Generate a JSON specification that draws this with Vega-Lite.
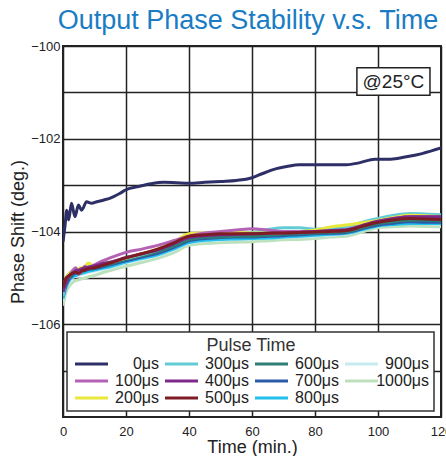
{
  "$schema": "https://vega.github.io/schema/vega-lite/v6.json",
  "width": 378,
  "height": 371,
  "autosize": {"type": "none"},
  "padding": {"left": 63, "top": 46, "right": 5, "bottom": 39},
  "background": "white",
  "title": {
    "text": "Output Phase Stability v.s. Time",
    "color": "#1a7cc4",
    "font": "Liberation Sans",
    "fontSize": 27,
    "fontWeight": "normal",
    "anchor": "middle",
    "dx": -4,
    "offset": 5
  },
  "config": {
    "view": {"stroke": "#222", "strokeWidth": 2},
    "axis": {
      "grid": true,
      "gridColor": "#222",
      "gridWidth": 1.5,
      "gridOpacity": 1,
      "domain": false,
      "ticks": false,
      "labelFont": "Liberation Sans",
      "labelFontSize": 13,
      "labelColor": "#222",
      "titleFont": "Liberation Sans",
      "titleFontSize": 18,
      "titleFontWeight": "normal",
      "titleColor": "#222"
    },
    "legend": {
      "orient": "none",
      "legendX": 4,
      "legendY": 286,
      "columns": 4,
      "symbolType": "M-1,0H5.6",
      "symbolSize": 100,
      "symbolStrokeWidth": 3,
      "symbolFillColor": "transparent",
      "labelFont": "Liberation Sans",
      "labelFontSize": 16,
      "labelColor": "#222",
      "labelAlign": "right",
      "labelOffset": 71,
      "labelLimit": 200,
      "columnPadding": 0,
      "rowPadding": 1,
      "titleFont": "Liberation Sans",
      "titleFontSize": 18,
      "titleFontWeight": "normal",
      "titleColor": "#333",
      "titleAnchor": "middle",
      "titlePadding": 1,
      "padding": 5,
      "strokeColor": "#333",
      "strokeWidth": 1.5,
      "fillColor": "white"
    }
  },
  "layer": [
    {
      "data": {"values": [
        {"pulse":"1000μs","time":0,"phase":-105.6},{"pulse":"1000μs","time":1,"phase":-105.3},{"pulse":"1000μs","time":2,"phase":-105.18},{"pulse":"1000μs","time":3,"phase":-105.1},{"pulse":"1000μs","time":4,"phase":-105.06},{"pulse":"1000μs","time":5,"phase":-105.04},{"pulse":"1000μs","time":6,"phase":-105.02},{"pulse":"1000μs","time":7,"phase":-105.0},{"pulse":"1000μs","time":8,"phase":-104.98},{"pulse":"1000μs","time":10,"phase":-104.95},{"pulse":"1000μs","time":12,"phase":-104.9},{"pulse":"1000μs","time":15,"phase":-104.84},{"pulse":"1000μs","time":20,"phase":-104.75},{"pulse":"1000μs","time":25,"phase":-104.67},{"pulse":"1000μs","time":30,"phase":-104.58},{"pulse":"1000μs","time":35,"phase":-104.46},{"pulse":"1000μs","time":40,"phase":-104.3},{"pulse":"1000μs","time":45,"phase":-104.26},{"pulse":"1000μs","time":50,"phase":-104.24},{"pulse":"1000μs","time":55,"phase":-104.23},{"pulse":"1000μs","time":60,"phase":-104.22},{"pulse":"1000μs","time":65,"phase":-104.2},{"pulse":"1000μs","time":70,"phase":-104.18},{"pulse":"1000μs","time":75,"phase":-104.17},{"pulse":"1000μs","time":80,"phase":-104.15},{"pulse":"1000μs","time":85,"phase":-104.12},{"pulse":"1000μs","time":90,"phase":-104.1},{"pulse":"1000μs","time":95,"phase":-104.01},{"pulse":"1000μs","time":100,"phase":-103.92},{"pulse":"1000μs","time":105,"phase":-103.9},{"pulse":"1000μs","time":110,"phase":-103.88},{"pulse":"1000μs","time":115,"phase":-103.89},{"pulse":"1000μs","time":120,"phase":-103.9},
        {"pulse":"900μs","time":0,"phase":-105.5},{"pulse":"900μs","time":1,"phase":-105.2},{"pulse":"900μs","time":2,"phase":-105.08},{"pulse":"900μs","time":3,"phase":-105.0},{"pulse":"900μs","time":4,"phase":-104.97},{"pulse":"900μs","time":5,"phase":-104.94},{"pulse":"900μs","time":6,"phase":-104.92},{"pulse":"900μs","time":7,"phase":-104.9},{"pulse":"900μs","time":8,"phase":-104.88},{"pulse":"900μs","time":10,"phase":-104.85},{"pulse":"900μs","time":12,"phase":-104.82},{"pulse":"900μs","time":15,"phase":-104.78},{"pulse":"900μs","time":20,"phase":-104.68},{"pulse":"900μs","time":25,"phase":-104.6},{"pulse":"900μs","time":30,"phase":-104.52},{"pulse":"900μs","time":35,"phase":-104.4},{"pulse":"900μs","time":40,"phase":-104.25},{"pulse":"900μs","time":45,"phase":-104.2},{"pulse":"900μs","time":50,"phase":-104.18},{"pulse":"900μs","time":55,"phase":-104.17},{"pulse":"900μs","time":60,"phase":-104.16},{"pulse":"900μs","time":65,"phase":-104.15},{"pulse":"900μs","time":70,"phase":-104.13},{"pulse":"900μs","time":75,"phase":-104.12},{"pulse":"900μs","time":80,"phase":-104.1},{"pulse":"900μs","time":85,"phase":-104.08},{"pulse":"900μs","time":90,"phase":-104.05},{"pulse":"900μs","time":95,"phase":-103.97},{"pulse":"900μs","time":100,"phase":-103.88},{"pulse":"900μs","time":105,"phase":-103.84},{"pulse":"900μs","time":110,"phase":-103.82},{"pulse":"900μs","time":115,"phase":-103.83},{"pulse":"900μs","time":120,"phase":-103.84},
        {"pulse":"800μs","time":0,"phase":-105.45},{"pulse":"800μs","time":1,"phase":-105.2},{"pulse":"800μs","time":2,"phase":-105.05},{"pulse":"800μs","time":3,"phase":-104.98},{"pulse":"800μs","time":4,"phase":-104.95},{"pulse":"800μs","time":5,"phase":-104.92},{"pulse":"800μs","time":6,"phase":-104.9},{"pulse":"800μs","time":7,"phase":-104.88},{"pulse":"800μs","time":8,"phase":-104.86},{"pulse":"800μs","time":10,"phase":-104.83},{"pulse":"800μs","time":12,"phase":-104.8},{"pulse":"800μs","time":15,"phase":-104.76},{"pulse":"800μs","time":20,"phase":-104.66},{"pulse":"800μs","time":25,"phase":-104.58},{"pulse":"800μs","time":30,"phase":-104.5},{"pulse":"800μs","time":35,"phase":-104.38},{"pulse":"800μs","time":40,"phase":-104.24},{"pulse":"800μs","time":45,"phase":-104.19},{"pulse":"800μs","time":50,"phase":-104.17},{"pulse":"800μs","time":55,"phase":-104.16},{"pulse":"800μs","time":60,"phase":-104.15},{"pulse":"800μs","time":65,"phase":-104.14},{"pulse":"800μs","time":70,"phase":-104.12},{"pulse":"800μs","time":75,"phase":-104.1},{"pulse":"800μs","time":80,"phase":-104.08},{"pulse":"800μs","time":85,"phase":-104.06},{"pulse":"800μs","time":90,"phase":-104.04},{"pulse":"800μs","time":95,"phase":-103.96},{"pulse":"800μs","time":100,"phase":-103.88},{"pulse":"800μs","time":105,"phase":-103.85},{"pulse":"800μs","time":110,"phase":-103.83},{"pulse":"800μs","time":115,"phase":-103.83},{"pulse":"800μs","time":120,"phase":-103.83},
        {"pulse":"700μs","time":0,"phase":-105.4},{"pulse":"700μs","time":1,"phase":-105.15},{"pulse":"700μs","time":2,"phase":-105.02},{"pulse":"700μs","time":3,"phase":-104.95},{"pulse":"700μs","time":4,"phase":-104.9},{"pulse":"700μs","time":5,"phase":-104.9},{"pulse":"700μs","time":6,"phase":-104.86},{"pulse":"700μs","time":7,"phase":-104.84},{"pulse":"700μs","time":8,"phase":-104.82},{"pulse":"700μs","time":10,"phase":-104.8},{"pulse":"700μs","time":12,"phase":-104.77},{"pulse":"700μs","time":15,"phase":-104.72},{"pulse":"700μs","time":20,"phase":-104.63},{"pulse":"700μs","time":25,"phase":-104.55},{"pulse":"700μs","time":30,"phase":-104.47},{"pulse":"700μs","time":35,"phase":-104.35},{"pulse":"700μs","time":40,"phase":-104.2},{"pulse":"700μs","time":45,"phase":-104.15},{"pulse":"700μs","time":50,"phase":-104.13},{"pulse":"700μs","time":55,"phase":-104.12},{"pulse":"700μs","time":60,"phase":-104.12},{"pulse":"700μs","time":65,"phase":-104.1},{"pulse":"700μs","time":70,"phase":-104.09},{"pulse":"700μs","time":75,"phase":-104.07},{"pulse":"700μs","time":80,"phase":-104.05},{"pulse":"700μs","time":85,"phase":-104.04},{"pulse":"700μs","time":90,"phase":-104.02},{"pulse":"700μs","time":95,"phase":-103.94},{"pulse":"700μs","time":100,"phase":-103.86},{"pulse":"700μs","time":105,"phase":-103.82},{"pulse":"700μs","time":110,"phase":-103.79},{"pulse":"700μs","time":115,"phase":-103.8},{"pulse":"700μs","time":120,"phase":-103.8},
        {"pulse":"600μs","time":0,"phase":-105.35},{"pulse":"600μs","time":1,"phase":-105.1},{"pulse":"600μs","time":2,"phase":-105.0},{"pulse":"600μs","time":3,"phase":-104.92},{"pulse":"600μs","time":4,"phase":-104.88},{"pulse":"600μs","time":5,"phase":-104.86},{"pulse":"600μs","time":6,"phase":-104.84},{"pulse":"600μs","time":7,"phase":-104.82},{"pulse":"600μs","time":8,"phase":-104.8},{"pulse":"600μs","time":10,"phase":-104.78},{"pulse":"600μs","time":12,"phase":-104.75},{"pulse":"600μs","time":15,"phase":-104.7},{"pulse":"600μs","time":20,"phase":-104.6},{"pulse":"600μs","time":25,"phase":-104.52},{"pulse":"600μs","time":30,"phase":-104.44},{"pulse":"600μs","time":35,"phase":-104.32},{"pulse":"600μs","time":40,"phase":-104.18},{"pulse":"600μs","time":45,"phase":-104.13},{"pulse":"600μs","time":50,"phase":-104.12},{"pulse":"600μs","time":55,"phase":-104.1},{"pulse":"600μs","time":60,"phase":-104.1},{"pulse":"600μs","time":65,"phase":-104.08},{"pulse":"600μs","time":70,"phase":-104.06},{"pulse":"600μs","time":75,"phase":-104.05},{"pulse":"600μs","time":80,"phase":-104.03},{"pulse":"600μs","time":85,"phase":-104.02},{"pulse":"600μs","time":90,"phase":-104.0},{"pulse":"600μs","time":95,"phase":-103.92},{"pulse":"600μs","time":100,"phase":-103.83},{"pulse":"600μs","time":105,"phase":-103.79},{"pulse":"600μs","time":110,"phase":-103.76},{"pulse":"600μs","time":115,"phase":-103.76},{"pulse":"600μs","time":120,"phase":-103.77},
        {"pulse":"300μs","time":0,"phase":-105.4},{"pulse":"300μs","time":1,"phase":-105.05},{"pulse":"300μs","time":2,"phase":-104.9},{"pulse":"300μs","time":3,"phase":-104.85},{"pulse":"300μs","time":4,"phase":-104.8},{"pulse":"300μs","time":5,"phase":-104.82},{"pulse":"300μs","time":6,"phase":-104.8},{"pulse":"300μs","time":7,"phase":-104.78},{"pulse":"300μs","time":8,"phase":-104.76},{"pulse":"300μs","time":10,"phase":-104.73},{"pulse":"300μs","time":12,"phase":-104.7},{"pulse":"300μs","time":15,"phase":-104.66},{"pulse":"300μs","time":20,"phase":-104.58},{"pulse":"300μs","time":25,"phase":-104.5},{"pulse":"300μs","time":30,"phase":-104.4},{"pulse":"300μs","time":35,"phase":-104.26},{"pulse":"300μs","time":40,"phase":-104.12},{"pulse":"300μs","time":45,"phase":-104.08},{"pulse":"300μs","time":50,"phase":-104.05},{"pulse":"300μs","time":55,"phase":-104.03},{"pulse":"300μs","time":60,"phase":-104.02},{"pulse":"300μs","time":65,"phase":-103.96},{"pulse":"300μs","time":70,"phase":-103.92},{"pulse":"300μs","time":75,"phase":-103.92},{"pulse":"300μs","time":80,"phase":-103.95},{"pulse":"300μs","time":85,"phase":-103.93},{"pulse":"300μs","time":90,"phase":-103.9},{"pulse":"300μs","time":95,"phase":-103.8},{"pulse":"300μs","time":100,"phase":-103.72},{"pulse":"300μs","time":105,"phase":-103.65},{"pulse":"300μs","time":110,"phase":-103.61},{"pulse":"300μs","time":115,"phase":-103.62},{"pulse":"300μs","time":120,"phase":-103.64},
        {"pulse":"200μs","time":0,"phase":-105.25},{"pulse":"200μs","time":1,"phase":-105.0},{"pulse":"200μs","time":2,"phase":-104.9},{"pulse":"200μs","time":3,"phase":-104.85},{"pulse":"200μs","time":4,"phase":-104.85},{"pulse":"200μs","time":5,"phase":-104.8},{"pulse":"200μs","time":6,"phase":-104.78},{"pulse":"200μs","time":7,"phase":-104.75},{"pulse":"200μs","time":8,"phase":-104.68},{"pulse":"200μs","time":10,"phase":-104.75},{"pulse":"200μs","time":12,"phase":-104.7},{"pulse":"200μs","time":15,"phase":-104.66},{"pulse":"200μs","time":20,"phase":-104.57},{"pulse":"200μs","time":25,"phase":-104.48},{"pulse":"200μs","time":30,"phase":-104.38},{"pulse":"200μs","time":35,"phase":-104.24},{"pulse":"200μs","time":40,"phase":-104.05},{"pulse":"200μs","time":45,"phase":-104.03},{"pulse":"200μs","time":50,"phase":-104.02},{"pulse":"200μs","time":55,"phase":-104.02},{"pulse":"200μs","time":60,"phase":-104.03},{"pulse":"200μs","time":65,"phase":-104.03},{"pulse":"200μs","time":70,"phase":-104.02},{"pulse":"200μs","time":75,"phase":-104.0},{"pulse":"200μs","time":80,"phase":-103.97},{"pulse":"200μs","time":85,"phase":-103.9},{"pulse":"200μs","time":90,"phase":-103.86},{"pulse":"200μs","time":95,"phase":-103.81},{"pulse":"200μs","time":100,"phase":-103.76},{"pulse":"200μs","time":105,"phase":-103.7},{"pulse":"200μs","time":110,"phase":-103.65},{"pulse":"200μs","time":115,"phase":-103.66},{"pulse":"200μs","time":120,"phase":-103.68},
        {"pulse":"100μs","time":0,"phase":-105.3},{"pulse":"100μs","time":1,"phase":-105.05},{"pulse":"100μs","time":2,"phase":-104.95},{"pulse":"100μs","time":3,"phase":-104.85},{"pulse":"100μs","time":4,"phase":-104.78},{"pulse":"100μs","time":5,"phase":-104.92},{"pulse":"100μs","time":6,"phase":-104.85},{"pulse":"100μs","time":7,"phase":-104.75},{"pulse":"100μs","time":8,"phase":-104.8},{"pulse":"100μs","time":10,"phase":-104.72},{"pulse":"100μs","time":12,"phase":-104.65},{"pulse":"100μs","time":15,"phase":-104.57},{"pulse":"100μs","time":20,"phase":-104.45},{"pulse":"100μs","time":25,"phase":-104.38},{"pulse":"100μs","time":30,"phase":-104.3},{"pulse":"100μs","time":35,"phase":-104.2},{"pulse":"100μs","time":40,"phase":-104.1},{"pulse":"100μs","time":45,"phase":-104.03},{"pulse":"100μs","time":50,"phase":-104.0},{"pulse":"100μs","time":55,"phase":-103.97},{"pulse":"100μs","time":60,"phase":-103.94},{"pulse":"100μs","time":65,"phase":-103.97},{"pulse":"100μs","time":70,"phase":-104.0},{"pulse":"100μs","time":75,"phase":-104.0},{"pulse":"100μs","time":80,"phase":-104.0},{"pulse":"100μs","time":85,"phase":-103.99},{"pulse":"100μs","time":90,"phase":-103.97},{"pulse":"100μs","time":95,"phase":-103.88},{"pulse":"100μs","time":100,"phase":-103.78},{"pulse":"100μs","time":105,"phase":-103.72},{"pulse":"100μs","time":110,"phase":-103.68},{"pulse":"100μs","time":115,"phase":-103.68},{"pulse":"100μs","time":120,"phase":-103.68},
        {"pulse":"400μs","time":0,"phase":-105.3},{"pulse":"400μs","time":1,"phase":-105.1},{"pulse":"400μs","time":2,"phase":-104.95},{"pulse":"400μs","time":3,"phase":-104.9},{"pulse":"400μs","time":4,"phase":-104.85},{"pulse":"400μs","time":5,"phase":-104.83},{"pulse":"400μs","time":6,"phase":-104.8},{"pulse":"400μs","time":7,"phase":-104.78},{"pulse":"400μs","time":8,"phase":-104.77},{"pulse":"400μs","time":10,"phase":-104.74},{"pulse":"400μs","time":12,"phase":-104.7},{"pulse":"400μs","time":15,"phase":-104.66},{"pulse":"400μs","time":20,"phase":-104.56},{"pulse":"400μs","time":25,"phase":-104.48},{"pulse":"400μs","time":30,"phase":-104.4},{"pulse":"400μs","time":35,"phase":-104.27},{"pulse":"400μs","time":40,"phase":-104.13},{"pulse":"400μs","time":45,"phase":-104.09},{"pulse":"400μs","time":50,"phase":-104.07},{"pulse":"400μs","time":55,"phase":-104.06},{"pulse":"400μs","time":60,"phase":-104.05},{"pulse":"400μs","time":65,"phase":-104.04},{"pulse":"400μs","time":70,"phase":-104.03},{"pulse":"400μs","time":75,"phase":-104.02},{"pulse":"400μs","time":80,"phase":-104.0},{"pulse":"400μs","time":85,"phase":-103.98},{"pulse":"400μs","time":90,"phase":-103.96},{"pulse":"400μs","time":95,"phase":-103.87},{"pulse":"400μs","time":100,"phase":-103.78},{"pulse":"400μs","time":105,"phase":-103.72},{"pulse":"400μs","time":110,"phase":-103.68},{"pulse":"400μs","time":115,"phase":-103.68},{"pulse":"400μs","time":120,"phase":-103.68},
        {"pulse":"500μs","time":0,"phase":-105.2},{"pulse":"500μs","time":1,"phase":-105.0},{"pulse":"500μs","time":2,"phase":-104.95},{"pulse":"500μs","time":3,"phase":-104.9},{"pulse":"500μs","time":4,"phase":-104.88},{"pulse":"500μs","time":5,"phase":-104.9},{"pulse":"500μs","time":6,"phase":-104.85},{"pulse":"500μs","time":7,"phase":-104.83},{"pulse":"500μs","time":8,"phase":-104.8},{"pulse":"500μs","time":10,"phase":-104.78},{"pulse":"500μs","time":12,"phase":-104.74},{"pulse":"500μs","time":15,"phase":-104.68},{"pulse":"500μs","time":20,"phase":-104.57},{"pulse":"500μs","time":25,"phase":-104.48},{"pulse":"500μs","time":30,"phase":-104.38},{"pulse":"500μs","time":35,"phase":-104.25},{"pulse":"500μs","time":40,"phase":-104.1},{"pulse":"500μs","time":45,"phase":-104.07},{"pulse":"500μs","time":50,"phase":-104.05},{"pulse":"500μs","time":55,"phase":-104.05},{"pulse":"500μs","time":60,"phase":-104.05},{"pulse":"500μs","time":65,"phase":-104.04},{"pulse":"500μs","time":70,"phase":-104.03},{"pulse":"500μs","time":75,"phase":-104.02},{"pulse":"500μs","time":80,"phase":-104.01},{"pulse":"500μs","time":85,"phase":-104.0},{"pulse":"500μs","time":90,"phase":-103.98},{"pulse":"500μs","time":95,"phase":-103.89},{"pulse":"500μs","time":100,"phase":-103.8},{"pulse":"500μs","time":105,"phase":-103.75},{"pulse":"500μs","time":110,"phase":-103.72},{"pulse":"500μs","time":115,"phase":-103.73},{"pulse":"500μs","time":120,"phase":-103.74},
        {"pulse":"0μs","time":0,"phase":-104.22},{"pulse":"0μs","time":0.6,"phase":-103.9},{"pulse":"0μs","time":1.2,"phase":-103.54},{"pulse":"0μs","time":1.8,"phase":-103.75},{"pulse":"0μs","time":2.7,"phase":-103.39},{"pulse":"0μs","time":3.8,"phase":-103.68},{"pulse":"0μs","time":4.9,"phase":-103.43},{"pulse":"0μs","time":5.9,"phase":-103.54},{"pulse":"0μs","time":7.5,"phase":-103.36},{"pulse":"0μs","time":9.1,"phase":-103.39},{"pulse":"0μs","time":10.7,"phase":-103.36},{"pulse":"0μs","time":13,"phase":-103.32},{"pulse":"0μs","time":15,"phase":-103.28},{"pulse":"0μs","time":18,"phase":-103.18},{"pulse":"0μs","time":20,"phase":-103.1},{"pulse":"0μs","time":24,"phase":-103.03},{"pulse":"0μs","time":28,"phase":-102.97},{"pulse":"0μs","time":32,"phase":-102.94},{"pulse":"0μs","time":36,"phase":-102.95},{"pulse":"0μs","time":40,"phase":-102.96},{"pulse":"0μs","time":45,"phase":-102.94},{"pulse":"0μs","time":50,"phase":-102.92},{"pulse":"0μs","time":55,"phase":-102.9},{"pulse":"0μs","time":60,"phase":-102.84},{"pulse":"0μs","time":63,"phase":-102.76},{"pulse":"0μs","time":67,"phase":-102.66},{"pulse":"0μs","time":71,"phase":-102.6},{"pulse":"0μs","time":75,"phase":-102.56},{"pulse":"0μs","time":80,"phase":-102.56},{"pulse":"0μs","time":85,"phase":-102.56},{"pulse":"0μs","time":90,"phase":-102.56},{"pulse":"0μs","time":94,"phase":-102.52},{"pulse":"0μs","time":99,"phase":-102.44},{"pulse":"0μs","time":104,"phase":-102.44},{"pulse":"0μs","time":109,"phase":-102.39},{"pulse":"0μs","time":114,"phase":-102.32},{"pulse":"0μs","time":120,"phase":-102.2}
      ]},
      "mark": {"type": "line", "interpolate": "monotone", "clip": true},
      "encoding": {
        "x": {
          "field": "time", "type": "quantitative",
          "scale": {"domain": [0, 120], "nice": false},
          "axis": {
            "title": "Time (min.)",
            "values": [0,10,20,30,40,50,60,70,80,90,100,110,120],
            "labelExpr": "datum.value % 20 === 0 ? datum.label : ''",
            "labelPadding": 8,
            "titlePadding": 0,
            "labelFlush": false
          }
        },
        "y": {
          "field": "phase", "type": "quantitative",
          "scale": {"domain": [-108, -100], "nice": false, "zero": false},
          "axis": {
            "title": "Phase Shift (deg.)",
            "values": [-107,-106,-105,-104,-103,-102,-101,-100],
            "labelExpr": "datum.value % 2 === 0 ? datum.label : ''",
            "labelPadding": 3,
            "titlePadding": 3,
            "labelFlush": false
          }
        },
        "color": {
          "field": "pulse", "type": "nominal",
          "scale": {
            "domain": ["0μs","100μs","200μs","300μs","400μs","500μs","600μs","700μs","800μs","900μs","1000μs"],
            "range": ["#2d2f66","#b462b4","#e8e83c","#62ccd6","#7d2a8a","#7d1c25","#2e7d77","#2b5aa8","#22c0ee","#c6eaee","#bde0bd"]
          },
          "legend": {"title": "Pulse Time"}
        },
        "strokeWidth": {
          "field": "pulse", "type": "nominal",
          "scale": {
            "domain": ["0μs","100μs","200μs","300μs","400μs","500μs","600μs","700μs","800μs","900μs","1000μs"],
            "range": [3,3,3,4,3,3,3,3,3,5,5]
          },
          "legend": null
        }
      }
    },
    {
      "data": {"values": [{"label": "@25°C", "x1": 93.3, "x2": 116.5, "y1": -100.47, "y2": -101.06}]},
      "mark": {"type": "rect", "fill": "white", "stroke": "#222", "strokeWidth": 1.5},
      "encoding": {
        "x": {"field": "x1", "type": "quantitative"},
        "x2": {"field": "x2"},
        "y": {"field": "y1", "type": "quantitative"},
        "y2": {"field": "y2"}
      }
    },
    {
      "data": {"values": [{"label": "@25°C", "tx": 104.9, "ty": -100.77}]},
      "mark": {"type": "text", "font": "Liberation Sans", "fontSize": 19, "color": "#222", "align": "center", "baseline": "middle"},
      "encoding": {
        "x": {"field": "tx", "type": "quantitative"},
        "y": {"field": "ty", "type": "quantitative"},
        "text": {"field": "label"}
      }
    }
  ]
}
